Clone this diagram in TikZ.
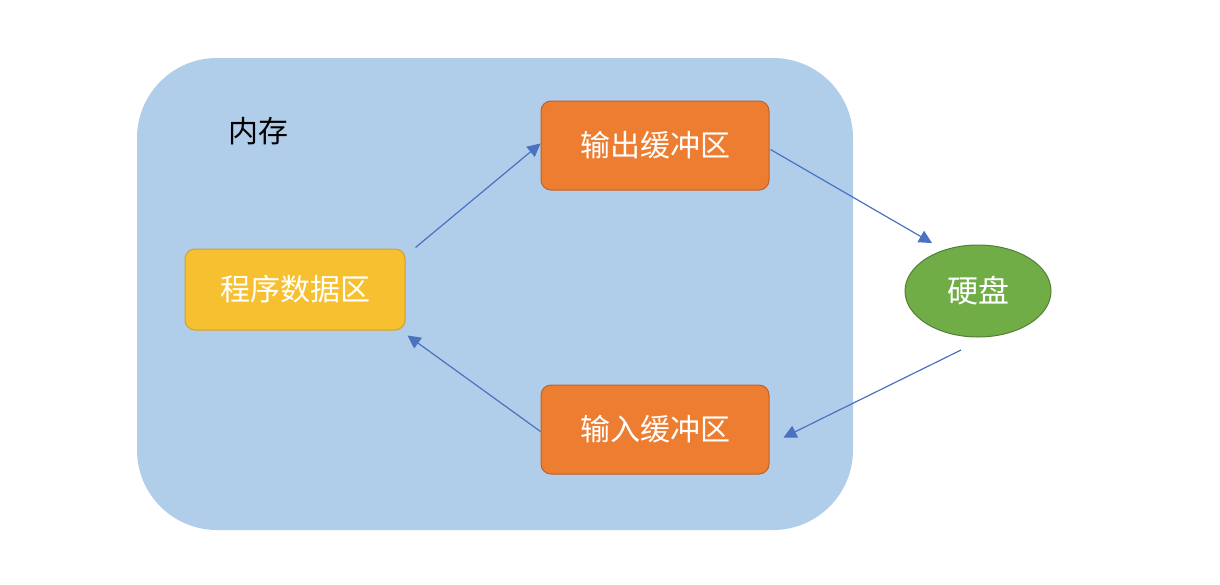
\documentclass[tikz,border=0pt]{standalone}
\usepackage{fontspec}
\newfontfamily\cjk{Noto Sans CJK SC}
\usetikzlibrary{arrows.meta,shapes.geometric,calc}
\definecolor{memblue}{HTML}{B0CDEA}
\definecolor{orangef}{HTML}{ED7D31}
\definecolor{oranged}{HTML}{C55F22}
\definecolor{yellowf}{HTML}{F6C030}
\definecolor{yellowd}{HTML}{D2A02A}
\definecolor{greenf}{HTML}{70AD47}
\definecolor{greend}{HTML}{527F33}
\definecolor{arrowc}{HTML}{4A72C0}
\tikzset{
  box/.style={rounded corners=10pt, line width=1pt, minimum width=228pt, minimum height=89pt, text=white, font=\cjk\fontsize{30}{34}\selectfont, inner sep=0pt},
  obox/.style={box, fill=orangef, draw=oranged},
  conn/.style={draw=arrowc, line width=1.2pt, -{Triangle[length=13pt,width=13pt]}}
}
\begin{document}
\begin{tikzpicture}[x=1pt,y=-1pt]
\useasboundingbox (0,0) rectangle (1220,584);
\fill[memblue, rounded corners=80pt] (137,58) rectangle (853,530);
\node[font=\cjk\fontsize{30}{34}\selectfont, anchor=center] (mem) at (258,131) {内存};
\node[box, fill=yellowf, draw=yellowd, minimum width=220pt, minimum height=81pt] (prog) at (295,289.5) {程序数据区};
\node[obox] (out) at (655,145.5) {输出缓冲区};
\node[obox] (in) at (655,429.5) {输入缓冲区};
\node[ellipse, fill=greenf, draw=greend, line width=1pt, minimum width=146pt, minimum height=92pt, inner sep=0pt, text=white, font=\cjk\fontsize{31}{35}\selectfont] (disk) at (978,291) {硬盘};
\draw[conn] ($(prog.north east)+(10,-1)$) -- ($(out.west)+(0,-2)$);
\draw[conn] ($(out.east)+(1,4)$) -- ($(disk.center)+(-46,-48)$);
\draw[conn] ($(disk.center)+(-17,59)$) -- ($(in.east)+(14,8)$);
\draw[conn] ($(in.west)+(0,2)$) -- ($(prog.south east)+(2,5)$);
\end{tikzpicture}
\end{document}
